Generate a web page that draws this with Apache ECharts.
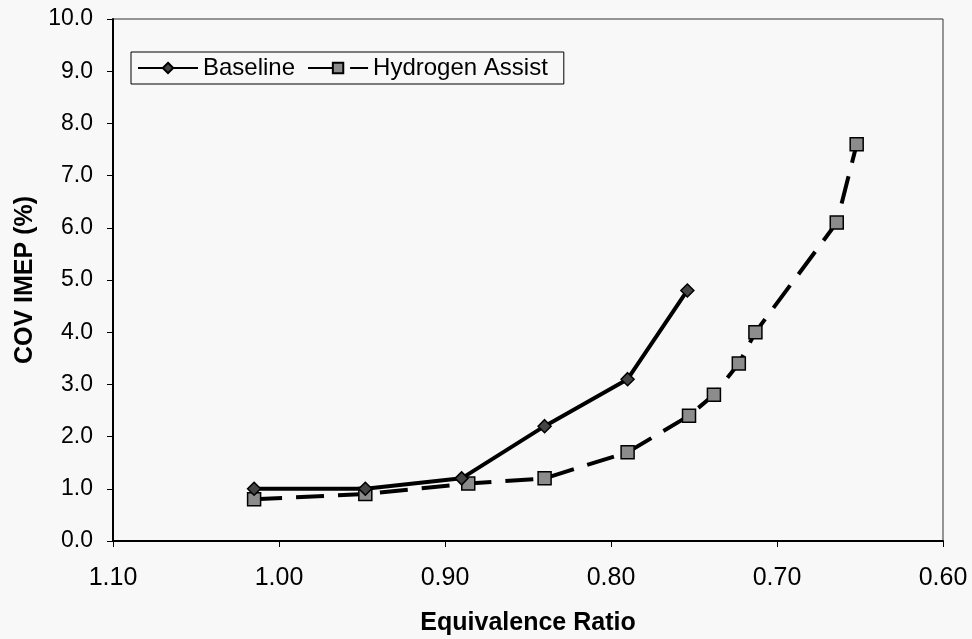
<!DOCTYPE html>
<html>
<head>
<meta charset="utf-8">
<script src="https://cdn.jsdelivr.net/npm/echarts@6/dist/echarts.min.js"></script>
<style>
  html, body { margin: 0; padding: 0; background: #f8f8f8; }
  #chart { width: 972px; height: 639px; }
</style>
</head>
<body>
<div id="chart"></div>
<script>
// equivalence ratio (x) / COV IMEP % (y)
const baselinePhi = [1.015, 0.948, 0.890, 0.840, 0.790, 0.754];
const baselineCov = [1.0, 1.0, 1.2, 2.2, 3.1, 4.8];
const h2Phi = [1.015, 0.948, 0.886, 0.840, 0.790, 0.753, 0.738, 0.723, 0.713, 0.664, 0.652];
const h2Cov = [0.8, 0.9, 1.1, 1.2, 1.7, 2.4, 2.8, 3.4, 4.0, 6.1, 7.6];

const font = "Arial, 'Liberation Sans', sans-serif";

const chart = echarts.init(document.getElementById("chart"));

const options = {
  backgroundColor: "#f8f8f8",
  animation: false,
  grid: {
    left: 113,
    right: 29,
    top: 19,
    bottom: 98,
    show: true,
    borderColor: "#333",
    borderWidth: 1,
    outerBoundsMode: "none",
    containLabel: false,
  },
  legend: {
    left: 131,
    top: 52,
    orient: "horizontal",
    backgroundColor: "transparent",
    borderColor: "#000",
    borderWidth: 1,
    borderRadius: 0,
    padding: [4, 16, 4, 6],
    itemGap: 12,
    itemWidth: 60,
    itemHeight: 13,
    textStyle: { fontFamily: font, fontSize: 24, color: "#000" },
    data: ["Baseline", "Hydrogen Assist"],
  },
  xAxis: {
    type: "value",
    min: 0.6,
    max: 1.1,
    interval: 0.1,
    inverse: true,
    name: "Equivalence Ratio",
    nameLocation: "middle",
    nameGap: 70,
    nameTextStyle: { fontFamily: font, fontSize: 25, fontWeight: "bold", color: "#000" },
    axisLine: { onZero: false, lineStyle: { color: "#000", width: 2 } },
    axisTick: { show: true, inside: false, length: 6, lineStyle: { color: "#000" } },
    splitLine: { show: false },
    axisLabel: {
      fontFamily: font,
      fontSize: 25,
      color: "#000",
      margin: 25,
      formatter: (v) => v.toFixed(2),
    },
  },
  yAxis: {
    type: "value",
    min: 0,
    max: 10,
    interval: 1,
    name: "COV IMEP (%)",
    nameLocation: "middle",
    nameGap: 72,
    nameTextStyle: { fontFamily: font, fontSize: 25, fontWeight: "bold", color: "#000" },
    axisLine: { show: true, lineStyle: { color: "#000", width: 2 } },
    axisTick: { show: true, inside: false, length: 6, lineStyle: { color: "#000" } },
    splitLine: { show: false },
    axisLabel: {
      fontFamily: font,
      fontSize: 23,
      color: "#000",
      margin: 20,
      formatter: (v) => v.toFixed(1),
    },
  },
  series: [
    {
      name: "Baseline",
      type: "line",
      data: baselinePhi.map((x, i) => [x, baselineCov[i]]),
      symbol: "diamond",
      symbolSize: 13,
      lineStyle: { color: "#000", width: 4 },
      itemStyle: { color: "#444", borderColor: "#000", borderWidth: 1.5 },
      z: 3,
    },
    {
      name: "Hydrogen Assist",
      type: "line",
      data: h2Phi.map((x, i) => [x, h2Cov[i]]),
      symbol: "rect",
      symbolSize: 13,
      lineStyle: { color: "#000", width: 4, type: [28, 14] },
      itemStyle: { color: "#8c8c8c", borderColor: "#000", borderWidth: 1.5 },
      z: 2,
    },
  ],
};

chart.setOption(options);
</script>
</body>
</html>
